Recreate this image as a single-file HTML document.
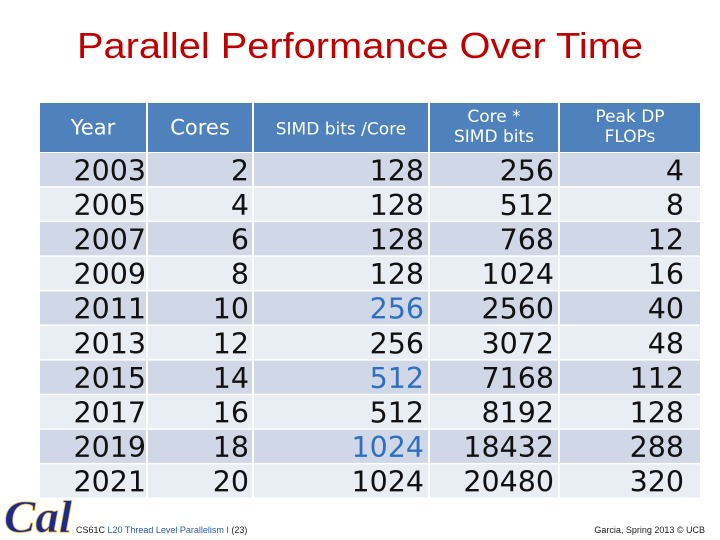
<!DOCTYPE html>
<html><head><meta charset="utf-8"><style>
html,body{margin:0;padding:0;background:#fff;}
svg{display:block;}
</style></head><body>
<svg id="slide" width="720" height="540" viewBox="0 0 720 540" xmlns="http://www.w3.org/2000/svg">
  <text x="360" y="58" text-anchor="middle" font-family="Liberation Sans, sans-serif" font-size="36" fill="#c00000" textLength="566" lengthAdjust="spacingAndGlyphs">Parallel Performance Over Time</text>
  <g id="table"></g>
  <text x="4" y="532" font-family="Liberation Serif, serif" font-style="italic" font-weight="bold" font-size="46" fill="#1b2a8f" stroke="#f0c040" stroke-width="0.8" textLength="68" lengthAdjust="spacingAndGlyphs">Cal</text>
  <text x="76" y="533" font-family="Liberation Sans, sans-serif" font-size="9" fill="#222">CS61C <tspan fill="#2a5ca8">L20 Thread Level Parallelism I</tspan> (23)</text>
  <text x="705" y="533" text-anchor="end" font-family="Liberation Sans, sans-serif" font-size="9" fill="#222">Garcia, Spring 2013 © UCB</text>
</svg>
<script>
const years = [2003,2005,2007,2009,2011,2013,2015,2017,2019,2021];
const cores = [2,4,6,8,10,12,14,16,18,20];
const simdBits = [128,128,128,128,256,256,512,512,1024,1024];
const coreSimd = [256,512,768,1024,2560,3072,7168,8192,18432,20480];
const peakFlops = [4,8,12,16,40,48,112,128,288,320];
const highlightSimd = [false,false,false,false,true,false,true,false,true,false];

const NS = "http://www.w3.org/2000/svg";
const g = document.getElementById('table');
const colX = [40,148,254,430,560];
const colW = [106,104,174,128,140];
const colRight = [146,249,424,554,684];
const headerTop = 103, headerH = 49, rowTop = 153, rowH = 34.6;

function mk(tag, attrs){ const e=document.createElementNS(NS,tag); for(const k in attrs) e.setAttribute(k,attrs[k]); return e; }

const headers = [["Year"],["Cores"],["SIMD bits /Core"],["Core *","SIMD bits"],["Peak DP","FLOPs"]];
const headerSize = [21,21,17,17,17];
headers.forEach((lines,i)=>{
  const r = mk('rect',{x:colX[i],y:headerTop,width:colW[i],height:headerH,fill:'#4f81bd'});
  
  
  g.appendChild(r);
  lines.forEach((ln,j)=>{
    const y = lines.length===1 ? headerTop+headerH/2+7 : headerTop+19+j*20;
    const t = mk('text',{x:colX[i]+colW[i]/2,y:y,'text-anchor':'middle','font-family':'DejaVu Sans, Liberation Sans, sans-serif','font-size':headerSize[i],fill:'#fff'});
    
    
    t.textContent = ln;
    g.appendChild(t);
  });
});

years.forEach((yr,ri)=>{
  const vals = [yr,cores[ri],simdBits[ri],coreSimd[ri],peakFlops[ri]];
  const y0 = rowTop + ri*rowH;
  vals.forEach((v,ci)=>{
    const r = mk('rect',{x:colX[ci],y:y0,width:colW[ci],height:rowH-1.5,fill: ri%2===0 ? '#d0d8e8' : '#e9edf4'});
    
    
    g.appendChild(r);
    const blue = (ci===2 && highlightSimd[ri]);
    const t = mk('text',{x:colRight[ci],y:y0+rowH/2+10,'text-anchor':'end','font-family':'DejaVu Sans, Liberation Sans, sans-serif','font-size':28.5,fill: blue ? '#2e6fc0' : '#111'});
    
    
    t.textContent = String(v);
    g.appendChild(t);
  });
});
</script>
</body></html>
